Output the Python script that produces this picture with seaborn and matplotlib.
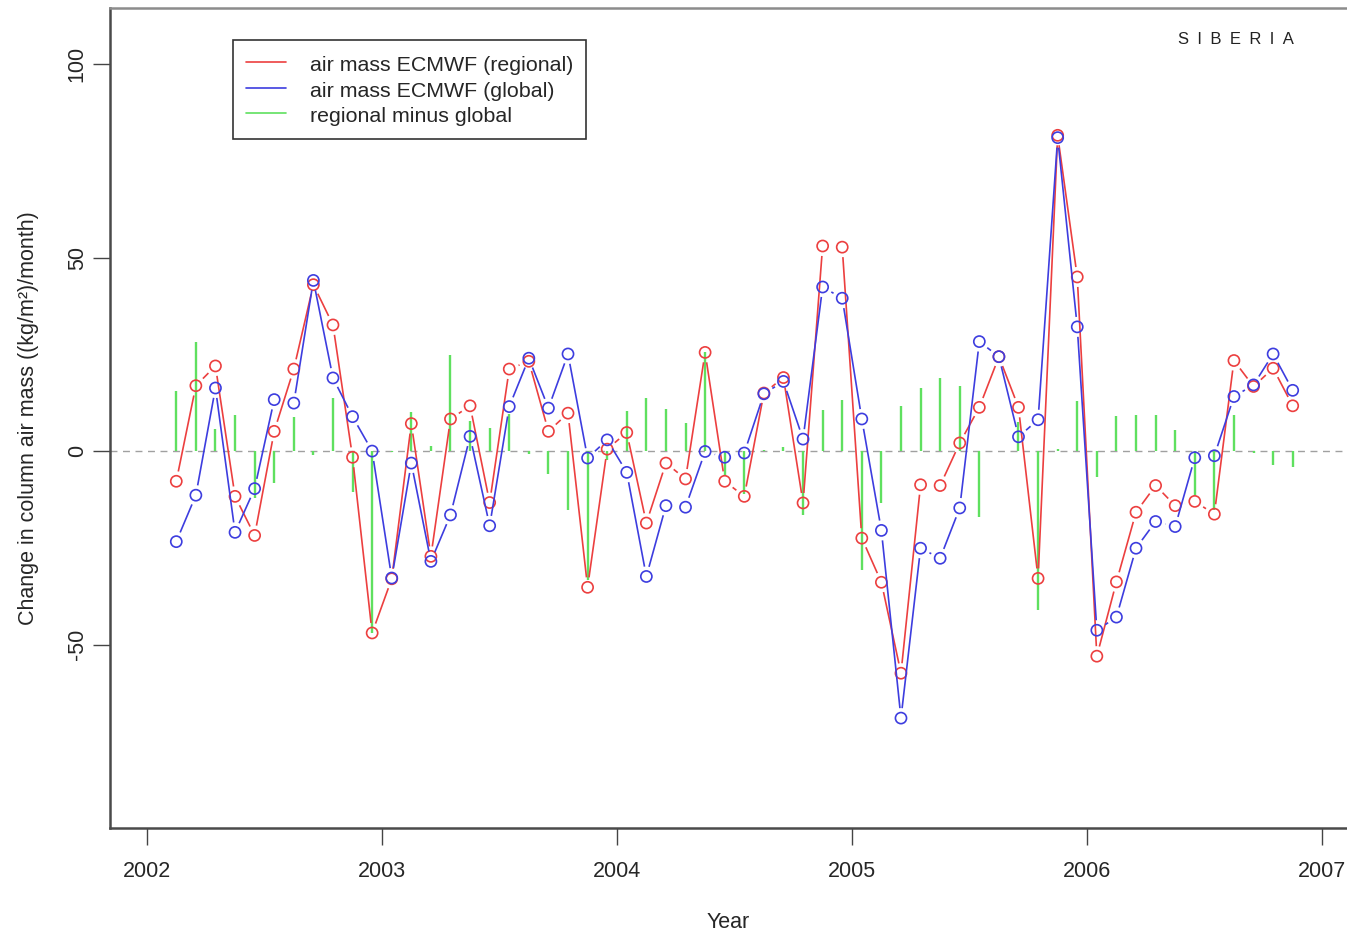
import numpy as np
import pandas as pd
import matplotlib
matplotlib.use("Agg")
import matplotlib.pyplot as plt
from matplotlib.lines import Line2D
from matplotlib.collections import LineCollection
import seaborn as sns

# Monthly change in column air mass over Siberia, Feb 2002 - Nov 2006
months = pd.period_range("2002-02", "2006-11", freq="M")

regional = [-7.8, 16.9, 22.0, -11.7, -21.8, 5.1, 21.2, 43.0, 32.6, -1.6, -47.0,
            -33.0, 7.1, -27.2, 8.3, 11.7, -13.3, 21.2, 23.2, 5.1, 9.8, -35.2, 0.5,
            4.8, -18.6, -3.1, -7.2, 25.5, -7.8, -11.7, 15.0, 19.0, -13.4, 53.0, 52.7,
            -22.5, -33.9, -57.4, -8.7, -8.9, 2.1, 11.3, 24.4, 11.3, -32.9, 81.6, 45.0,
            -53.0, -33.8, -15.8, -8.9, -14.1, -13.0, -16.3, 23.4, 16.7, 21.4, 11.7]

global_ = [-23.4, -11.4, 16.3, -21.0, -9.7, 13.3, 12.4, 44.1, 18.9, 8.9, 0.0,
           -32.8, -3.1, -28.5, -16.5, 3.8, -19.3, 11.5, 24.0, 11.1, 25.1, -1.8, 2.9,
           -5.5, -32.4, -14.1, -14.5, -0.1, -1.6, -0.5, 14.8, 18.0, 3.1, 42.4, 39.5,
           8.3, -20.5, -69.0, -25.1, -27.7, -14.7, 28.3, 24.4, 3.7, 8.1, 81.0, 32.1,
           -46.3, -42.9, -25.1, -18.2, -19.5, -1.7, -1.2, 14.1, 17.1, 25.1, 15.7]

year_ticks = [2002, 2003, 2004, 2005, 2006, 2007]
value_ticks = [-50, 0, 50, 100]
series_labels = ["air mass ECMWF (regional)", "air mass ECMWF (global)",
                 "regional minus global"]
region_name = "S\u2002I\u2002B\u2002E\u2002R\u2002I\u2002A"

df = pd.DataFrame({
    "t": months.year + (months.month - 0.5) / 12.0,
    "regional": regional,
    "global": global_,
})
df["diff"] = df["regional"] - df["global"]

RED = "#ec3f3f"
BLUE = "#3d3ddf"
GREEN = "#5fe05f"

sns.set_style("ticks")
plt.rcParams["font.family"] = ["Liberation Sans", "DejaVu Sans"]

fig = plt.figure(figsize=(13.47, 9.33), dpi=100)
ax = fig.add_axes([110 / 1347, 105 / 933, 1237 / 1347, 820 / 933])
ax.set_xlim(2001.843, 2007.106)
ax.set_ylim(-97.4, 114.5)
fig.canvas.draw()


def gapped_segments(x, y, gap_px=10.0):
    """Line segments between consecutive points, stopped short of each point."""
    pts = ax.transData.transform(np.column_stack([x, y]))
    inv = ax.transData.inverted()
    segs = []
    for p0, p1 in zip(pts[:-1], pts[1:]):
        d = p1 - p0
        length = np.hypot(*d)
        if length <= 2 * gap_px:
            continue
        u = d / length
        segs.append(inv.transform(np.array([p0 + u * gap_px, p1 - u * gap_px])))
    return segs


# zero reference line
ax.axhline(0, color="#a0a0a0", lw=1.0, ls=(0, (5, 4)), zorder=1)

# regional minus global as vertical spikes
ax.vlines(df["t"], 0, df["diff"], color=GREEN, lw=1.7, zorder=2)

# regional and global series: open circles joined by broken lines
for col, color, z in [("regional", RED, 3), ("global", BLUE, 4)]:
    ax.add_collection(LineCollection(gapped_segments(df["t"], df[col]),
                                     colors=color, linewidths=1.2, zorder=z))
    sns.scatterplot(data=df, x="t", y=col, ax=ax, marker="o", s=64,
                    facecolor="none", edgecolor=color, linewidth=1.2,
                    zorder=z, legend=False)

ax.set_xlim(2001.843, 2007.106)
ax.set_ylim(-97.4, 114.5)

ax.set_xticks(year_ticks)
ax.set_xticklabels([str(y) for y in year_ticks], fontsize=15.5)
ax.set_yticks(value_ticks)
ax.set_yticklabels([str(v) for v in value_ticks], fontsize=15.5,
                   rotation=90, va="center")
ax.tick_params(axis="x", length=12, width=1.0, pad=12, color="#444444")
ax.tick_params(axis="y", length=12, width=1.0, pad=4, color="#444444")

ax.set_xlabel("Year", fontsize=15.5, labelpad=21)
ax.set_ylabel("Change in column air mass ((kg/m\u00b2)/month)", fontsize=15.5,
              labelpad=20)

for side in ["left", "bottom"]:
    ax.spines[side].set_color("#4a4a4a")
    ax.spines[side].set_linewidth(1.8)
ax.spines["top"].set_color("#8c8c8c")
ax.spines["top"].set_linewidth(1.8)
ax.spines["right"].set_visible(False)

handles = [Line2D([], [], color=RED, lw=1.2),
           Line2D([], [], color=BLUE, lw=1.2),
           Line2D([], [], color=GREEN, lw=1.2)]
leg = ax.legend(handles, series_labels, loc="upper left",
                bbox_to_anchor=(0.0994, 0.961), fontsize=15.4,
                frameon=True, fancybox=False, framealpha=1.0,
                edgecolor="#333333", handlelength=1.9, handletextpad=1.1,
                handleheight=1.2, labelspacing=0.16, borderpad=0.6,
                borderaxespad=0.0)
leg.get_frame().set_linewidth(1.2)

ax.text(0.8634, 0.961, region_name, transform=ax.transAxes, fontsize=12,
        ha="left", va="center", color="#222222")

fig.savefig("out.png", dpi=100)
